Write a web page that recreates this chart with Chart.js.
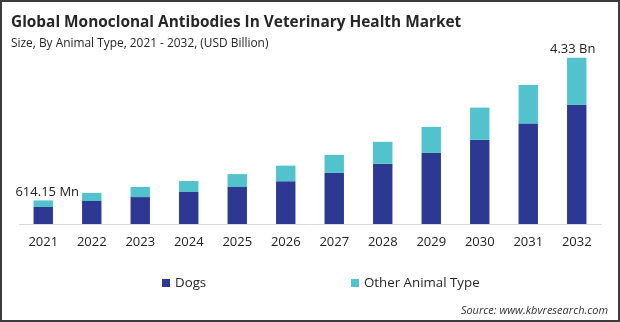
<!DOCTYPE html>
<html>
<head>
<meta charset="utf-8">
<script src="https://cdn.jsdelivr.net/npm/chart.js@4"></script>
<style>
  html, body { margin: 0; padding: 0; background: #fff; }
  #wrap { position: relative; width: 620px; height: 322px; overflow: hidden; background: #fff; }
  #frame { position: absolute; left: 0; top: 0; width: 620px; height: 322px; box-sizing: border-box; border: 2px solid #3c3c3c; pointer-events: none; }
  canvas { position: absolute; left: 0; top: 0; }
  .t { position: absolute; white-space: nowrap; font-family: "Open Sans", sans-serif; color: #222; }
  #title { left: 11px; top: 11px; font-size: 15.4px; font-weight: bold; color: #262626; }
  #sub { left: 11px; top: 34px; font-size: 11.9px; color: #262626; }
  #src { right: 12px; top: 302px; font-size: 11px; font-style: italic; color: #333; }
  .lg { position: absolute; top: 273px; font-family: "Open Sans", sans-serif; font-size: 13.3px; color: #262626; white-space: nowrap; }
  .sw { display: inline-block; width: 8px; height: 8px; margin-right: 5px; vertical-align: 0px; }
</style>
</head>
<body>
<div id="wrap">
  <canvas id="c" width="620" height="322"></canvas>
  <div class="t" id="title">Global Monoclonal Antibodies In Veterinary Health Market</div>
  <div class="t" id="sub">Size, By Animal Type, 2021 - 2032, (USD Billion)</div>
  <div class="lg" style="left:162px"><span class="sw" style="background:#2c3892"></span>Dogs</div>
  <div class="lg" style="left:351px"><span class="sw" style="background:#52c3cd"></span>Other Animal Type</div>
  <div class="t" id="src">Source: www.kbvresearch.com</div>
  <div id="frame"></div>
</div>
<script>
const years = ['2021','2022','2023','2024','2025','2026','2027','2028','2029','2030','2031','2032'];
const dogs  = [0.443, 0.60, 0.70, 0.835, 0.965, 1.11, 1.33, 1.565, 1.85, 2.19, 2.61, 3.10];
const other = [0.171, 0.21, 0.265, 0.285, 0.335, 0.41, 0.47, 0.575, 0.68, 0.84, 1.01, 1.23];
const valueLabels = ['614.15 Mn', '', '', '', '', '', '', '', '', '', '', '4.33 Bn'];
const seriesNames = ['Dogs', 'Other Animal Type'];
const colors = ['#2c3892', '#52c3cd'];

const labelPlugin = {
  id: 'valueLabels',
  afterDatasetsDraw(chart) {
    const ctx = chart.ctx;
    const meta = chart.getDatasetMeta(1);
    ctx.save();
    ctx.font = '13px "Open Sans", sans-serif';
    ctx.fillStyle = '#222';
    ctx.textAlign = 'center';
    ctx.textBaseline = 'bottom';
    valueLabels.forEach((txt, i) => {
      if (!txt) return;
      const el = meta.data[i];
      const dx = i === 0 ? 4 : -4;
      ctx.fillText(txt, el.x + dx, el.y - 2);
    });
    ctx.restore();
  }
};

new Chart(document.getElementById('c'), {
  type: 'bar',
  data: {
    labels: years,
    datasets: [
      { label: seriesNames[0], data: dogs, backgroundColor: colors[0] },
      { label: seriesNames[1], data: other, backgroundColor: colors[1] }
    ]
  },
  options: {
    responsive: false,
    animation: false,
    devicePixelRatio: 1,
    layout: { padding: { left: 19, right: 19, top: 32, bottom: 74 } },
    datasets: { bar: { categoryPercentage: 0.8, barPercentage: 0.5 } },
    plugins: { legend: { display: false }, title: { display: false }, tooltip: { enabled: false } },
    scales: {
      x: {
        stacked: true,
        grid: { display: false, drawTicks: false },
        border: { display: true, color: '#d9d9d9', width: 1 },
        ticks: { color: '#222', font: { family: '"Open Sans", sans-serif', size: 13 }, padding: 10, maxRotation: 0 },
        afterFit(scale) { scale.height = 24; }
      },
      y: {
        stacked: true,
        display: false,
        min: 0,
        max: 5
      }
    }
  },
  plugins: [labelPlugin]
});
</script>
</body>
</html>
